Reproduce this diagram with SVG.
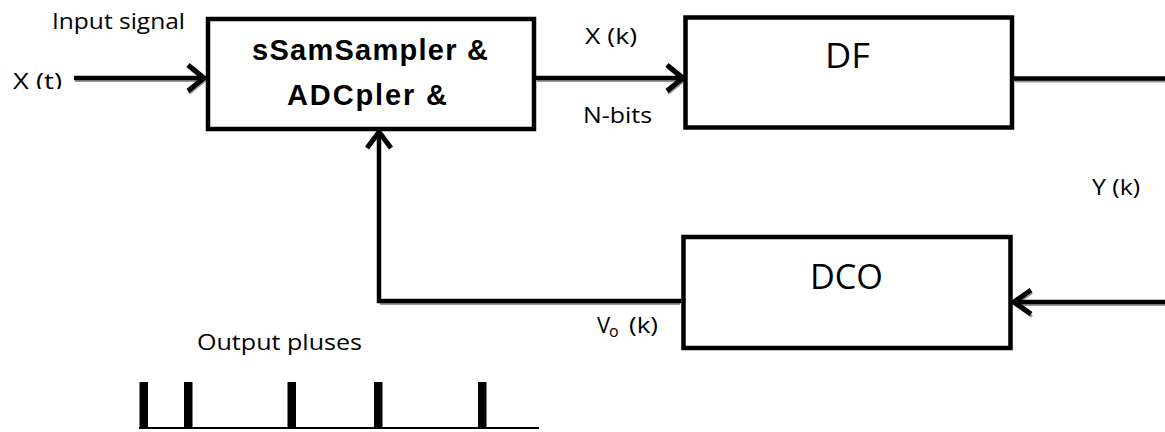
<svg xmlns="http://www.w3.org/2000/svg" width="1165" height="432" viewBox="0 0 1165 432">
  <style>
    .box { fill: #fff; stroke: #000; stroke-width: 4.5; }
    .lbl { font-family: "Open Sans", "Liberation Sans", sans-serif; font-size: 22px; fill: #000; }
    .big { font-family: "Open Sans", "Liberation Sans", sans-serif; font-size: 34px; fill: #000; }
    .bold { font-family: "Liberation Sans", Arial, sans-serif; font-size: 29px; font-weight: bold; fill: #000; }
    .wire { fill: none; stroke: #000; stroke-width: 4.5; stroke-linejoin: miter; }
    .shadow { fill: none; stroke: #9a9a9a; stroke-width: 3; }
    .head { fill: none; stroke: #000; stroke-width: 5; stroke-linejoin: miter; stroke-linecap: butt; }
    .pulse { fill: #000; }
  </style>
  <defs>
    <clipPath id="clipXt"><rect x="0" y="60" width="80" height="29"/></clipPath>
  </defs>

  <g id="connectors">
    <g transform="translate(1,2.5)">
      <path class="shadow" d="M74,78 H203"/>
      <path class="shadow" d="M188,65 L204,78 L188,91"/>
      <path class="shadow" d="M536,78 H682"/>
      <path class="shadow" d="M667,65 L683,78 L667,91"/>
      <path class="shadow" d="M1014,78.5 H1165"/>
      <path class="shadow" d="M679,301 H379"/>
      <path class="shadow" d="M1165,302 H1014"/>
      <path class="shadow" d="M1031,290 L1014,302 L1031,314"/>
    </g>
    <path class="wire" d="M74,78 H203"/>
    <path class="head" d="M188,65 L204,78 L188,91"/>
    <path class="wire" d="M536,78 H682"/>
    <path class="head" d="M667,65 L683,78 L667,91"/>
    <path class="wire" d="M1014,78.5 H1165"/>
    <path class="wire" d="M681,301 H379 V133"/>
    <path class="head" d="M367,148 L379,132 L391,148"/>
    <path class="wire" d="M1165,302 H1014"/>
    <path class="head" d="M1031,290 L1014,302 L1031,314"/>
  </g>

  <g id="sampler">
    <rect class="box" x="208" y="19" width="326" height="110"/>
    <text class="bold" x="252" y="60" textLength="236" lengthAdjust="spacing">sSamSampler &amp;</text>
    <text class="bold" x="287" y="105" textLength="160" lengthAdjust="spacing">ADCpler &amp;</text>
  </g>

  <g id="df">
    <rect class="box" x="685.5" y="17.5" width="326.5" height="110"/>
    <text class="big" x="825" y="68" textLength="45" lengthAdjust="spacingAndGlyphs">DF</text>
  </g>

  <g id="dco">
    <rect class="box" x="683.5" y="237" width="327" height="111"/>
    <text class="big" x="810" y="289" textLength="73" lengthAdjust="spacingAndGlyphs">DCO</text>
  </g>

  <g id="labels">
    <text class="lbl" x="52" y="29" textLength="133" lengthAdjust="spacingAndGlyphs">Input signal</text>
    <text class="lbl" x="13" y="89" textLength="49" lengthAdjust="spacingAndGlyphs" clip-path="url(#clipXt)">X (t)</text>
    <text class="lbl" x="585" y="44" textLength="52" lengthAdjust="spacingAndGlyphs">X (k)</text>
    <text class="lbl" x="583" y="123" textLength="69" lengthAdjust="spacingAndGlyphs">N-bits</text>
    <text class="lbl" x="1092" y="195" textLength="48" lengthAdjust="spacingAndGlyphs">Y (k)</text>
    <text class="lbl" y="333"><tspan x="597">V</tspan><tspan x="609" y="337" font-size="16">o</tspan><tspan x="629" y="333" textLength="29" lengthAdjust="spacingAndGlyphs">(k)</tspan></text>
    <text class="lbl" x="197" y="350" textLength="165" lengthAdjust="spacingAndGlyphs">Output pluses</text>
  </g>

  <g id="pulses">
    <rect class="pulse" x="139" y="427" width="400" height="2"/>
    <rect class="pulse" x="139.5" y="382" width="8.5" height="46"/>
    <rect class="pulse" x="184" y="382" width="8.5" height="46"/>
    <rect class="pulse" x="287.5" y="382" width="8.5" height="46"/>
    <rect class="pulse" x="374" y="382" width="8.5" height="46"/>
    <rect class="pulse" x="478" y="382" width="8.5" height="46"/>
  </g>
</svg>
